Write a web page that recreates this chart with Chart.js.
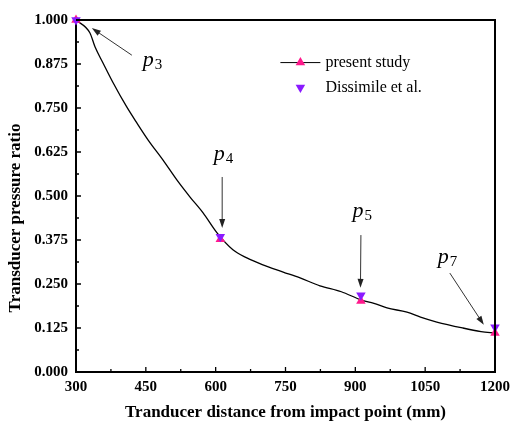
<!DOCTYPE html>
<html>
<head>
<meta charset="utf-8" />
<script src="https://cdn.jsdelivr.net/npm/chart.js@4.4.1/dist/chart.umd.min.js"></script>
<style>
    html, body { margin: 0; padding: 0; background: #fff; }
    #wrap { width: 511px; height: 423px; position: relative; }
</style>
</head>
<body>
<div id="wrap"><canvas id="chart"></canvas></div>
<script>
// measured curve (present study)
const curveX = [300, 330, 341, 358, 380, 409, 431, 455, 487, 517, 545, 573, 603, 637, 667, 700, 745, 780, 824, 870, 912, 940, 968, 1011, 1040, 1075, 1131, 1170, 1200];
const curveY = [1.0, 0.963, 0.923, 0.878, 0.821, 0.753, 0.707, 0.659, 0.602, 0.545, 0.497, 0.452, 0.395, 0.347, 0.324, 0.305, 0.284, 0.268, 0.245, 0.228, 0.205, 0.195, 0.182, 0.170, 0.156, 0.142, 0.125, 0.115, 0.110];

const transducerX = [300, 610, 912, 1200];
const presentY = [1.0, 0.377, 0.202, 0.111];
const dissimileY = [1.0, 0.384, 0.218, 0.127];

const xTicks = [300, 450, 600, 750, 900, 1050, 1200];
const yTicks = [0, 0.125, 0.25, 0.375, 0.5, 0.625, 0.75, 0.875, 1.0];

const seriesNames = ["present study", "Dissimile et al."];
const pinkColor = "#ff1a8c";
const purpleColor = "#8a1aff";

// p labels: [name, sub, labelX, labelY, fromX, fromY, toX, toY]
const notes = [
    ["p", "3", 463, 0.878, 420, 0.9, 334, 0.977],
    ["p", "4", 616, 0.611, 614, 0.554, 614, 0.409],
    ["p", "5", 914, 0.449, 912, 0.389, 911, 0.239],
    ["p", "7", 1097, 0.318, 1103, 0.281, 1176, 0.134],
];

const serif = "'Liberation Serif', 'Times New Roman', serif";

const toPoints = (xs, ys) => xs.map((x, i) => ({ x, y: ys[i] }));

const drawTriangle = (ctx, x, y, r, down, color) => {
    ctx.save();
    ctx.translate(x, y);
    if (down) ctx.rotate(Math.PI);
    ctx.fillStyle = color;
    ctx.beginPath();
    ctx.moveTo(0, -r);
    ctx.lineTo(r * 0.866, r * 0.5);
    ctx.lineTo(-r * 0.866, r * 0.5);
    ctx.closePath();
    ctx.fill();
    ctx.restore();
};

const drawArrow = (ctx, x1, y1, x2, y2) => {
    const ang = Math.atan2(y2 - y1, x2 - x1);
    ctx.save();
    ctx.strokeStyle = "#333";
    ctx.fillStyle = "#222";
    ctx.lineWidth = 1;
    ctx.beginPath();
    ctx.moveTo(x1, y1);
    ctx.lineTo(x2 - 6 * Math.cos(ang), y2 - 6 * Math.sin(ang));
    ctx.stroke();
    ctx.translate(x2, y2);
    ctx.rotate(ang);
    ctx.beginPath();
    ctx.moveTo(0, 0);
    ctx.lineTo(-9, -3);
    ctx.lineTo(-9, 3);
    ctx.closePath();
    ctx.fill();
    ctx.restore();
};

const extrasPlugin = {
    id: "extras",
    afterDraw: (chart) => {
        const { ctx, chartArea, scales } = chart;
        const xs = scales.x;
        const ys = scales.y;
        ctx.save();

        // frame top/right
        ctx.strokeStyle = "#000";
        ctx.lineWidth = 2;
        ctx.beginPath();
        ctx.moveTo(chartArea.left, chartArea.top);
        ctx.lineTo(chartArea.right, chartArea.top);
        ctx.lineTo(chartArea.right, chartArea.bottom);
        ctx.stroke();

        // inward ticks
        ctx.lineWidth = 1.3;
        ctx.beginPath();
        for (let i = 0; i < xTicks.length; i++) {
            const px = xs.getPixelForValue(xTicks[i]);
            ctx.moveTo(px, chartArea.bottom);
            ctx.lineTo(px, chartArea.bottom - 5);
            if (i < xTicks.length - 1) {
                const mx = xs.getPixelForValue((xTicks[i] + xTicks[i + 1]) / 2);
                ctx.moveTo(mx, chartArea.bottom);
                ctx.lineTo(mx, chartArea.bottom - 3);
            }
        }
        for (let i = 0; i < yTicks.length; i++) {
            const py = ys.getPixelForValue(yTicks[i]);
            ctx.moveTo(chartArea.left, py);
            ctx.lineTo(chartArea.left + 5, py);
            if (i < yTicks.length - 1) {
                const my = ys.getPixelForValue((yTicks[i] + yTicks[i + 1]) / 2);
                ctx.moveTo(chartArea.left, my);
                ctx.lineTo(chartArea.left + 3, my);
            }
        }
        ctx.stroke();

        // y axis title
        ctx.save();
        ctx.translate(16, 218);
        ctx.rotate(-Math.PI / 2);
        ctx.fillStyle = "#000";
        ctx.font = `bold 17px ${serif}`;
        ctx.textAlign = "center";
        ctx.textBaseline = "middle";
        ctx.fillText("Transducer pressure ratio", 0, 0);
        ctx.restore();

        // legend
        const lx = xs.getPixelForValue(782);
        const ly = ys.getPixelForValue(0.879);
        ctx.strokeStyle = "#000";
        ctx.lineWidth = 1;
        ctx.beginPath();
        ctx.moveTo(lx - 20, ly);
        ctx.lineTo(lx + 20, ly);
        ctx.stroke();
        drawTriangle(ctx, lx, ly, 5.5, false, pinkColor);
        drawTriangle(ctx, lx, ly + 25, 5.5, true, purpleColor);
        ctx.fillStyle = "#000";
        ctx.font = `16px ${serif}`;
        ctx.textAlign = "left";
        ctx.textBaseline = "middle";
        ctx.fillText(seriesNames[0], lx + 25, ly);
        ctx.fillText(seriesNames[1], lx + 25, ly + 25);

        // p labels and arrows
        notes.forEach(([name, sub, tx, ty, fx, fy, hx, hy]) => {
            const px = xs.getPixelForValue(tx);
            const py = ys.getPixelForValue(ty);
            ctx.font = `italic 22px ${serif}`;
            const w = ctx.measureText(name).width;
            ctx.font = `15px ${serif}`;
            const sw = ctx.measureText(sub).width;
            const left = px - (w + sw) / 2;
            ctx.textBaseline = "alphabetic";
            ctx.font = `italic 22px ${serif}`;
            ctx.fillText(name, left, py + 3);
            ctx.font = `15px ${serif}`;
            ctx.fillText(sub, left + w + 1, py + 6);
            drawArrow(
                ctx,
                xs.getPixelForValue(fx),
                ys.getPixelForValue(fy),
                xs.getPixelForValue(hx),
                ys.getPixelForValue(hy)
            );
        });

        ctx.restore();
    },
};

const tickFont = { family: serif, size: 15, weight: "bold" };

new Chart(document.getElementById("chart").getContext("2d"), {
    type: "scatter",
    data: {
        datasets: [
            {
                type: "line",
                label: "curve",
                data: toPoints(curveX, curveY),
                borderColor: "#000",
                borderWidth: 1.3,
                pointRadius: 0,
                cubicInterpolationMode: "monotone",
                fill: false,
                order: 3,
            },
            {
                label: seriesNames[0],
                data: toPoints(transducerX, presentY),
                pointStyle: "triangle",
                pointRadius: 5.5,
                backgroundColor: pinkColor,
                borderColor: pinkColor,
                borderWidth: 0,
                clip: false,
                order: 2,
            },
            {
                label: seriesNames[1],
                data: toPoints(transducerX, dissimileY),
                pointStyle: "triangle",
                pointRotation: 180,
                pointRadius: 5.5,
                backgroundColor: purpleColor,
                borderColor: purpleColor,
                borderWidth: 0,
                clip: false,
                order: 1,
            },
        ],
    },
    options: {
        responsive: true,
        maintainAspectRatio: false,
        animation: false,
        layout: { padding: { top: 20, right: 16, left: 0, bottom: 0 } },
        plugins: {
            legend: { display: false },
            tooltip: { enabled: false },
        },
        scales: {
            x: {
                type: "linear",
                min: 300,
                max: 1200,
                afterBuildTicks: (scale) => {
                    scale.ticks = xTicks.map((v) => ({ value: v }));
                },
                afterFit: (scale) => {
                    scale.height = 51;
                    scale.paddingLeft = 0;
                    scale.paddingRight = 0;
                },
                ticks: {
                    font: tickFont,
                    color: "#000",
                    padding: 6,
                    maxRotation: 0,
                    callback: (v) => String(v),
                },
                grid: { display: false, drawTicks: false },
                border: { display: true, color: "#000", width: 2 },
                title: {
                    display: true,
                    text: "Tranducer distance from impact point (mm)",
                    font: { family: serif, size: 17, weight: "bold" },
                    color: "#000",
                    padding: { top: 4, bottom: 0 },
                },
            },
            y: {
                type: "linear",
                min: 0,
                max: 1,
                afterBuildTicks: (scale) => {
                    scale.ticks = yTicks.map((v) => ({ value: v }));
                },
                afterFit: (scale) => {
                    scale.width = 76;
                    scale.paddingTop = 0;
                    scale.paddingBottom = 0;
                },
                ticks: {
                    font: tickFont,
                    color: "#000",
                    padding: 8,
                    callback: (v) => Number(v).toFixed(3),
                },
                grid: { display: false, drawTicks: false },
                border: { display: true, color: "#000", width: 2 },
            },
        },
    },
    plugins: [extrasPlugin],
});
</script>
</body>
</html>
